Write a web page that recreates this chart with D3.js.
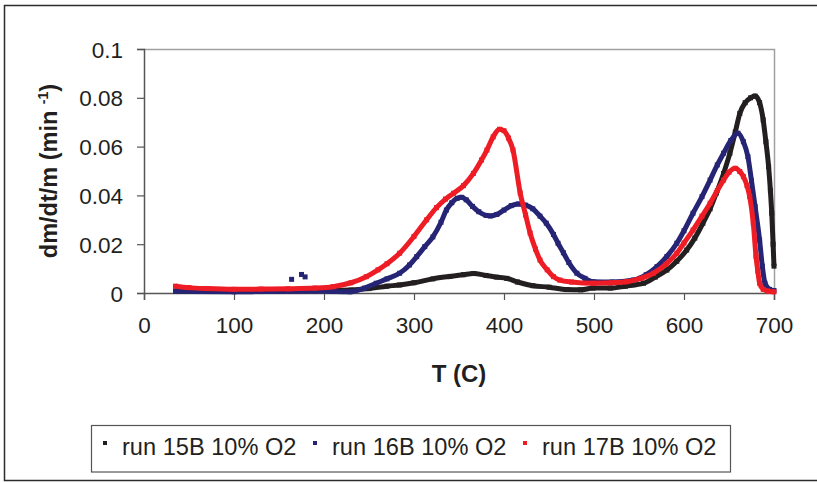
<!DOCTYPE html>
<html lang="en">
<head>
    <meta charset="UTF-8">
    <title>dm/dt/m vs T</title>
    <script src="https://d3js.org/d3.v7.min.js"></script>
    <style>
        body {
            margin: 0;
            background: #fff;
        }

        svg text {
            font-family: "Liberation Sans", Arial, sans-serif;
            fill: #231f20;
        }
    </style>
</head>
<body>

<div id="chart"></div>

<script>
    // T (C), dm/dt/m (1/min)
    const run15T = [35, 100, 150, 200, 230, 250, 270, 284, 300, 321, 340, 355, 366, 380, 392, 403, 415, 432, 450, 470, 485, 499, 518, 535, 555, 568, 581, 592, 603, 612, 621, 629, 636, 644, 651, 657, 662, 668, 674, 679, 684, 688, 691, 694, 696, 697.5, 699, 700];
    const run15V = [0.0008, 0.0006, 0.0008, 0.0010, 0.0012, 0.0018, 0.0028, 0.0033, 0.0042, 0.0058, 0.0068, 0.0075, 0.0080, 0.0072, 0.0065, 0.0060, 0.0045, 0.0030, 0.0024, 0.0014, 0.0013, 0.0020, 0.0020, 0.0028, 0.0040, 0.0065, 0.0094, 0.0130, 0.0176, 0.0225, 0.0286, 0.0345, 0.0410, 0.0490, 0.0573, 0.0660, 0.0736, 0.0780, 0.0800, 0.0807, 0.0780, 0.0709, 0.0620, 0.0518, 0.0420, 0.0327, 0.0200, 0.0110];

    const run16T = [35, 60, 100, 130, 160, 190, 210, 229, 245, 258, 270, 284, 295, 303, 312, 321, 330, 336, 342, 348, 353, 358, 365, 372, 380, 385, 392, 400, 408, 416, 424, 432, 440, 447, 455, 460, 466, 472, 481, 490, 499, 520, 544, 558, 570, 581, 592, 600, 610, 620, 629, 637, 644, 652, 660, 666, 671, 675, 679, 684, 687, 690, 695, 700];
    const run16V = [0.0008, 0.0006, 0.0005, 0.0006, 0.0007, 0.0008, 0.0006, 0.0005, 0.0020, 0.0040, 0.0058, 0.0081, 0.0115, 0.0149, 0.0190, 0.0230, 0.0290, 0.0340, 0.0370, 0.0388, 0.0392, 0.0382, 0.0355, 0.0333, 0.0318, 0.0316, 0.0322, 0.0340, 0.0358, 0.0365, 0.0360, 0.0345, 0.0315, 0.0286, 0.0240, 0.0204, 0.0165, 0.0125, 0.0081, 0.0060, 0.0046, 0.0045, 0.0053, 0.0075, 0.0108, 0.0150, 0.0204, 0.0255, 0.0327, 0.0395, 0.0463, 0.0525, 0.0573, 0.0625, 0.0655, 0.0620, 0.0559, 0.0460, 0.0354, 0.0217, 0.0110, 0.0040, 0.0015, 0.0010];

    const run17T = [35, 50, 70, 100, 130, 160, 190, 210, 230, 247, 260, 270, 284, 300, 314, 325, 335, 344, 355, 366, 375, 381, 388, 395, 400, 405, 410, 418, 424, 429, 435, 440, 448, 455, 462, 475, 499, 520, 536, 552, 566, 580, 592, 600, 610, 620, 629, 637, 644, 650, 657, 662, 666, 670, 673, 677, 680, 682, 684, 688, 693, 700];
    const run17V = [0.0028, 0.0022, 0.0018, 0.0015, 0.0016, 0.0017, 0.0020, 0.0026, 0.0042, 0.0067, 0.0095, 0.0120, 0.0163, 0.0232, 0.0300, 0.0350, 0.0385, 0.0409, 0.0440, 0.0490, 0.0545, 0.0586, 0.0640, 0.0671, 0.0665, 0.0635, 0.0586, 0.0410, 0.0320, 0.0246, 0.0180, 0.0135, 0.0095, 0.0067, 0.0053, 0.0045, 0.0040, 0.0042, 0.0046, 0.0060, 0.0081, 0.0118, 0.0163, 0.0205, 0.0258, 0.0315, 0.0368, 0.0420, 0.0463, 0.0495, 0.0511, 0.0498, 0.0477, 0.0440, 0.0395, 0.0286, 0.0150, 0.0090, 0.0040, 0.0015, 0.0008, 0.0005];

    // stray points near 170 C
    const strayT = [164, 175, 179];
    const strayV = [0.0056, 0.0076, 0.0066];

    const seriesNames = ["run 15B 10% O2", "run 16B 10% O2", "run 17B 10% O2"];
    const seriesColors = ["#231f20", "#262474", "#ee1c25"];

    const xTicks = [0, 100, 200, 300, 400, 500, 600, 700];
    const yTicks = [0, 0.02, 0.04, 0.06, 0.08, 0.1];

    let series = [
        {name: seriesNames[0], color: seriesColors[0], points: run15T.map((t, i) => [t, run15V[i]])},
        {name: seriesNames[1], color: seriesColors[1], points: run16T.map((t, i) => [t, run16V[i]])},
        {name: seriesNames[2], color: seriesColors[2], points: run17T.map((t, i) => [t, run17V[i]])}
    ];

    let W = 817, H = 483;
    let plot = {left: 144, right: 774, top: 49, bottom: 293};

    let svg = d3.select("#chart").append("svg")
        .attr("width", W)
        .attr("height", H);

    // outer frame (runs off the right edge)
    svg.append("rect")
        .attr("x", 4.5).attr("y", 5.5)
        .attr("width", 840).attr("height", 475)
        .attr("fill", "none")
        .attr("stroke", "#2b2b2b")
        .attr("stroke-width", 1.5);

    let x = d3.scaleLinear().domain([0, 700]).range([plot.left, plot.right]);
    let y = d3.scaleLinear().domain([0, 0.1]).range([plot.bottom, plot.top]);

    // plot area border, top and right in light grey
    svg.append("path")
        .attr("d", `M${plot.left},${plot.top + 0.5}H${plot.right + 0.5}V${plot.bottom}`)
        .attr("fill", "none")
        .attr("stroke", "#a0a0a0")
        .attr("stroke-width", 1.5);

    let xAxis = svg.append("g")
        .attr("transform", `translate(0,${plot.bottom})`)
        .call(d3.axisBottom(x).tickValues(xTicks).tickSize(7).tickPadding(17).tickFormat(d3.format("d")));

    let yAxis = svg.append("g")
        .attr("transform", `translate(${plot.left},0)`)
        .call(d3.axisLeft(y).tickValues(yTicks).tickSize(7).tickPadding(14).tickFormat(d => d === 0 ? "0" : d3.format("~g")(d)));

    [xAxis, yAxis].forEach(ax => {
        ax.select(".domain").attr("stroke", "#555").attr("stroke-width", 1.5);
        ax.selectAll(".tick line").attr("stroke", "#555").attr("stroke-width", 1.2);
        ax.selectAll(".tick text")
            .attr("font-size", "22.5px")
            .attr("font-family", "'Liberation Sans', Arial, sans-serif")
            .attr("fill", "#231f20");
    });
    yAxis.selectAll(".tick text").attr("dy", "0.36em");

    // data
    let line = d3.line()
        .x(d => x(d[0]))
        .y(d => y(d[1]))
        .curve(d3.curveMonotoneX);

    let marks = svg.append("g");
    series.forEach(s => {
        marks.append("path")
            .datum(s.points)
            .attr("d", line)
            .attr("fill", "none")
            .attr("stroke", s.color)
            .attr("stroke-width", 5)
            .attr("stroke-linejoin", "round");

        marks.selectAll(null)
            .data(s.points)
            .enter()
            .append("rect")
            .attr("x", d => x(d[0]) - 2.5)
            .attr("y", d => y(d[1]) - 2.5)
            .attr("width", 5)
            .attr("height", 5)
            .attr("fill", s.color);
    });

    marks.selectAll(null)
        .data(strayT.map((t, i) => [t, strayV[i]]))
        .enter()
        .append("rect")
        .attr("x", d => x(d[0]) - 2.5)
        .attr("y", d => y(d[1]) - 2.5)
        .attr("width", 5)
        .attr("height", 5)
        .attr("fill", seriesColors[1]);

    // axis titles
    svg.append("text")
        .attr("x", (plot.left + plot.right) / 2)
        .attr("y", 382)
        .attr("text-anchor", "middle")
        .attr("font-size", "24px")
        .attr("font-weight", "bold")
        .text("T (C)");

    let yTitle = svg.append("text")
        .attr("transform", `translate(57,${(plot.top + plot.bottom) / 2}) rotate(-90)`)
        .attr("text-anchor", "middle")
        .attr("font-size", "23.5px")
        .attr("font-weight", "bold");
    yTitle.append("tspan").text("dm/dt/m (min ");
    yTitle.append("tspan").attr("font-size", "14px").attr("dy", "-9").text("-1");
    yTitle.append("tspan").attr("dy", "9").text(")");

    // legend
    svg.append("rect")
        .attr("x", 91.5).attr("y", 425.5)
        .attr("width", 639).attr("height", 46.5)
        .attr("fill", "#fff")
        .attr("stroke", "#555")
        .attr("stroke-width", 1.2);

    let legendX = [105, 315, 525];
    series.forEach((s, i) => {
        svg.append("rect")
            .attr("x", legendX[i] - 2)
            .attr("y", 441)
            .attr("width", 4)
            .attr("height", 4)
            .attr("fill", s.color);
        svg.append("text")
            .attr("x", legendX[i] + 17)
            .attr("y", 455)
            .attr("font-size", "23.6px")
            .text(s.name);
    });
</script>

</body>
</html>
